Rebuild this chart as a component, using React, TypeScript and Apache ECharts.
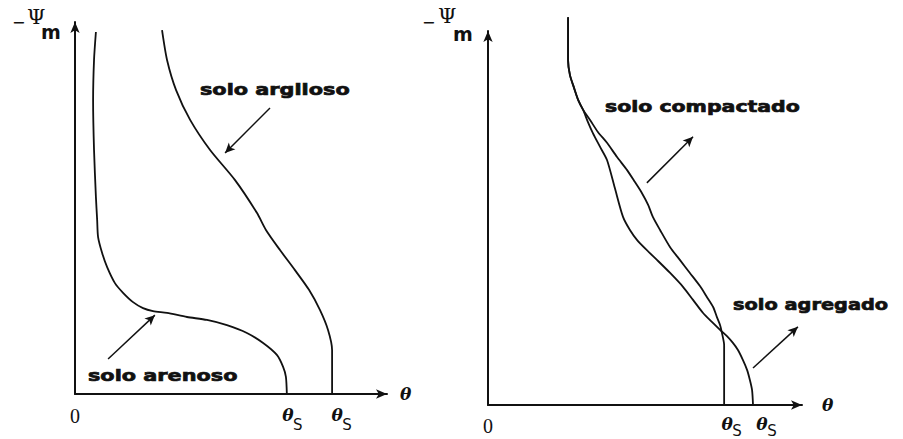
import React, { useEffect, useRef } from 'react';
import * as echarts from 'echarts';

// Left panel: water retention curves (θ in arbitrary units 0..100, −Ψm 0..100)
const arenosoTheta = [6.7, 6.1, 5.8, 6.1, 6.7, 7.1, 7.4, 8.7, 10.3, 12.8, 15.4, 18.6, 21.8, 25.0, 29.5, 35.9, 42.3, 48.7, 55.1, 60.3, 64.7, 66.7, 67.6, 67.9];
const arenosoPsi = [97.3, 89.8, 79.0, 65.6, 53.0, 46.8, 42.2, 37.9, 34.1, 29.8, 27.2, 24.7, 23.1, 22.3, 21.8, 20.7, 19.9, 18.5, 16.4, 13.7, 10.5, 7.3, 4.6, 0];

const argilosoTheta = [27.9, 29.5, 32.4, 36.9, 43.3, 51.3, 58.3, 61.2, 65.7, 70.5, 75.0, 78.5, 81.1, 82.4, 82.4];
const argilosoPsi = [97.8, 89.8, 81.7, 73.7, 65.6, 57.5, 48.7, 44.1, 38.7, 33.3, 28.0, 22.6, 17.2, 11.8, 0];

// Right panel
const compactadoTheta = [25.5, 25.5, 25.5, 26.1, 27.4, 28.7, 30.3, 32.5, 35.0, 37.9, 41.1, 44.3, 46.8, 49.0, 51.0, 52.5, 54.8, 58.0, 61.1, 64.3, 67.5, 69.7, 71.7, 72.9, 73.9, 74.5, 75.2, 75.2, 75.2];
const compactadoPsi = [103.7, 97.6, 92.2, 88.2, 84.8, 81.6, 78.9, 76.2, 73.0, 70.1, 66.3, 62.8, 59.6, 56.7, 53.5, 50.3, 46.8, 42.2, 38.8, 35.3, 31.8, 28.9, 26.2, 23.5, 21.4, 19.3, 16.0, 13.9, 0];

const agregadoTheta = [25.5, 25.5, 25.5, 26.1, 27.4, 28.7, 30.3, 31.8, 33.4, 35.7, 37.9, 40.4, 43.0, 45.2, 47.5, 50.6, 53.8, 58.0, 62.1, 65.3, 68.5, 71.3, 73.9, 76.1, 78.0, 79.6, 81.2, 82.5, 83.4, 84.1, 84.4];
const agregadoPsi = [103.7, 97.6, 92.2, 88.2, 84.8, 81.6, 78.9, 75.7, 72.7, 69.0, 65.5, 58.0, 50.3, 46.8, 44.1, 41.4, 38.8, 35.3, 31.6, 28.1, 24.6, 22.2, 20.1, 18.4, 16.6, 14.7, 12.0, 9.4, 6.7, 4.0, 0];

// θ axis: origin label and saturation water content θs of each curve
const originTicks = [0];
const thetaSArenoso = 67.9;
const thetaSArgiloso = 82.4;
const thetaSCompactado = 75.2;
const thetaSAgregado = 84.4;

// Annotation arrows [from, to] in data units
const argilosoArrow = [[62.5, 76.9], [48.1, 64.8]];
const arenosoArrow = [[10.6, 9.4], [25.6, 21.2]];
const compactadoArrow = [[50.6, 59.4], [65.3, 71.7]];
const agregadoArrow = [[84.4, 9.9], [98.7, 20.9]];

const INK = '#111';

const zip = (xs: number[], ys: number[]) => xs.map((x, i) => [x, ys[i]]);

const makeX = (gridIndex: number, nameGap: number, margin: number) => ({
  type: 'value',
  gridIndex,
  min: 0,
  max: 100,
  axisLine: { show: true, onZero: false, lineStyle: { color: INK, width: 2 }, symbol: ['none', 'arrow'], symbolSize: [7, 11] },
  axisTick: { show: false },
  splitLine: { show: false },
  axisLabel: {
    show: true,
    customValues: originTicks,
    margin,
    fontFamily: '"Liberation Serif"',
    fontSize: 20,
    color: INK,
  },
  name: 'θ',
  nameLocation: 'end',
  nameGap,
  nameTextStyle: { fontFamily: '"DejaVu Serif"', fontStyle: 'italic', fontWeight: 'bold', fontSize: 17, color: INK, align: 'left', verticalAlign: 'middle' },
});

const makeY = (gridIndex: number) => ({
  type: 'value',
  gridIndex,
  min: 0,
  max: 100,
  axisLine: { show: true, onZero: false, lineStyle: { color: INK, width: 2 }, symbol: ['none', 'arrow'], symbolSize: [7, 11] },
  axisTick: { show: false },
  splitLine: { show: false },
  axisLabel: { show: false },
});

const thetaSMark = (ts: number, dx: number, dy: number, sub: number) => ({
  silent: true,
  symbol: 'circle',
  symbolSize: 1,
  itemStyle: { color: 'rgba(0,0,0,0)' },
  data: [
    {
      coord: [ts, 0],
      label: { show: true, position: 'inside', formatter: 'θ', offset: [dx, dy], fontFamily: '"DejaVu Serif"', fontStyle: 'italic', fontWeight: 'bold', fontSize: 17, color: INK },
    },
    {
      coord: [ts, 0],
      label: { show: true, position: 'inside', formatter: 'S', offset: [dx + 10, dy + sub], fontFamily: '"DejaVu Sans"', fontSize: 15, color: INK },
    },
  ],
});

const curve = (name: string, idx: number, xs: number[], ys: number[], arrow: number[][], ts: number, dx: number, dy: number, sub: number) => ({
  name,
  type: 'line',
  xAxisIndex: idx,
  yAxisIndex: idx,
  data: zip(xs, ys),
  showSymbol: false,
  symbol: 'none',
  smooth: 0.25,
  clip: false,
  silent: true,
  lineStyle: { color: INK, width: 1.8 },
  markLine: {
    silent: true,
    symbol: ['none', 'arrow'],
    symbolSize: [7, 10],
    label: { show: false },
    lineStyle: { color: INK, width: 1.5, type: 'solid' },
    data: [[{ coord: arrow[0] }, { coord: arrow[1] }]],
  },
  markPoint: thetaSMark(ts, dx, dy, sub),
});

const txt = (x: number, y: number, text: string, font: string, scaleX = 1, stroke = 0) => ({
  type: 'text',
  x,
  y,
  scaleX,
  silent: true,
  style: { text, font, fill: INK, stroke: stroke ? INK : undefined, lineWidth: stroke, verticalAlign: 'middle', align: 'left' },
});

const LABEL_FONT = 'bold 16px "DejaVu Sans"';

export default function App() {
  const ref = useRef<HTMLDivElement>(null);
  useEffect(() => {
    const chart = echarts.init(ref.current!, null, { renderer: 'svg' });
    chart.setOption({
      animation: false,
      backgroundColor: '#ffffff',
      grid: [
        { left: 75, top: 22, width: 312, height: 372 },
        { left: 488, top: 31, width: 314, height: 374 },
      ],
      xAxis: [makeX(0, 13, 12), makeX(1, 20, 11)],
      yAxis: [makeY(0), makeY(1)],
      series: [
        curve('solo arenoso', 0, arenosoTheta, arenosoPsi, arenosoArrow, thetaSArenoso, 1, 21, 10),
        curve('solo argiloso', 0, argilosoTheta, argilosoPsi, argilosoArrow, thetaSArgiloso, 5, 21, 10),
        curve('solo compactado', 1, compactadoTheta, compactadoPsi, compactadoArrow, thetaSCompactado, 3, 19, 7),
        curve('solo agregado', 1, agregadoTheta, agregadoPsi, agregadoArrow, thetaSAgregado, 9, 19, 7),
      ],
      graphic: [
        txt(12, 22, '−', '16px "DejaVu Sans"'),
        txt(27, 17, 'Ψ', '21px "DejaVu Serif"'),
        txt(41, 32, 'm', 'bold 19px "DejaVu Sans"'),
        txt(422, 22, '−', '16px "DejaVu Sans"'),
        txt(438, 16, 'Ψ', '21px "DejaVu Serif"'),
        txt(453, 34, 'm', 'bold 19px "DejaVu Sans"'),
        txt(200, 89, 'solo argiloso', LABEL_FONT, 1.3, 0.7),
        txt(88, 375, 'solo arenoso', LABEL_FONT, 1.3, 0.7),
        txt(605, 106, 'solo compactado', LABEL_FONT, 1.28, 0.7),
        txt(733, 305, 'solo agregado', LABEL_FONT, 1.21, 0.7),
      ],
    });
    return () => chart.dispose();
  }, []);
  return <div ref={ref} style={{ position: 'fixed', left: 0, top: 0, width: 903, height: 439, background: '#fff' }} />;
}
